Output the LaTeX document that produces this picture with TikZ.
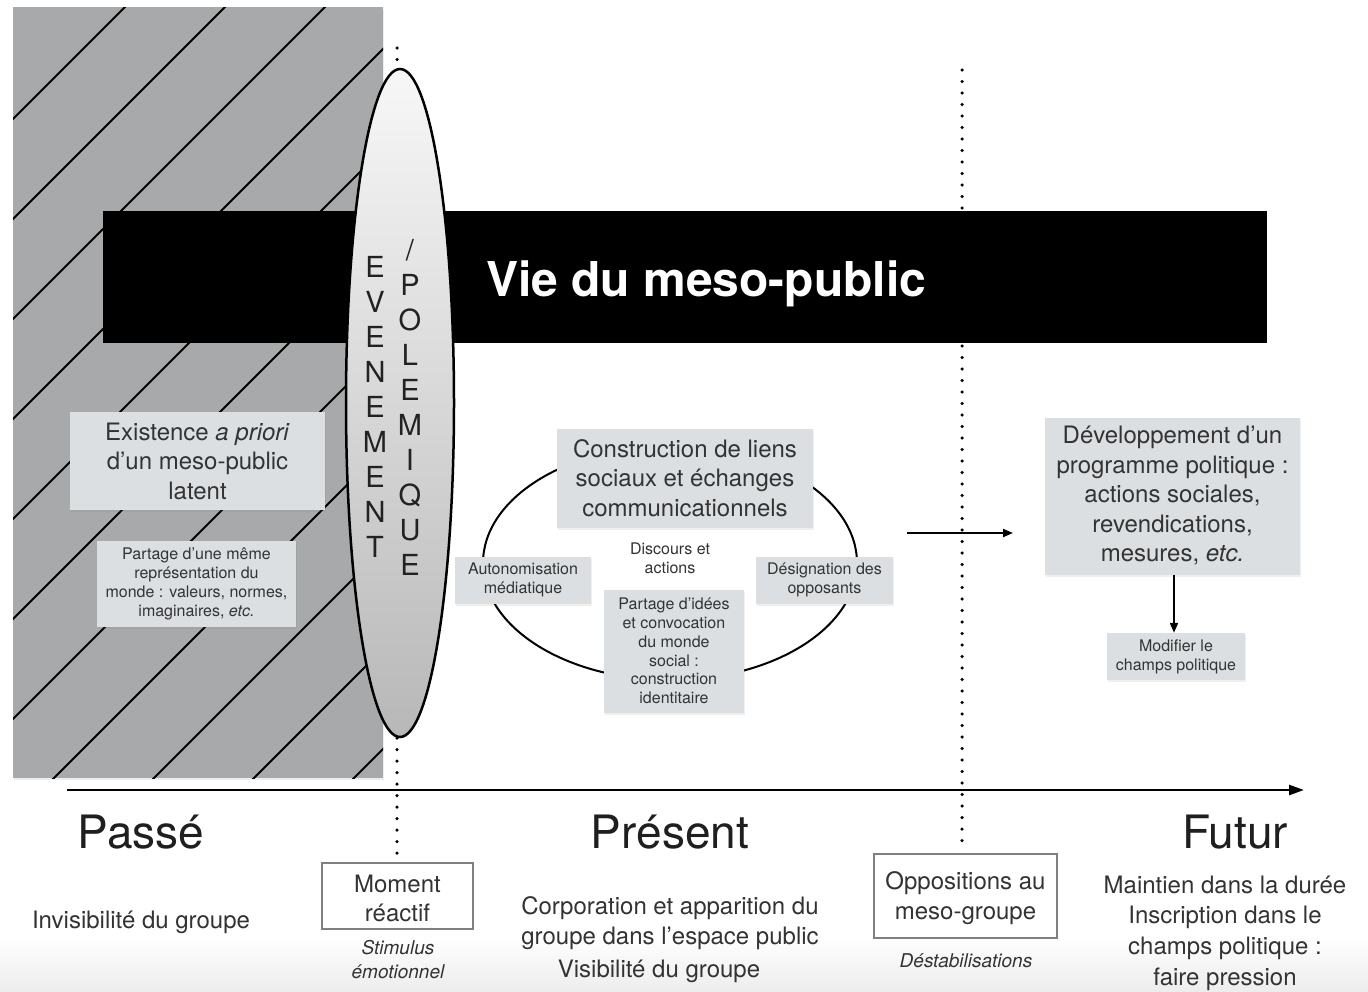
\documentclass[tikz,border=0pt]{standalone}
\usepackage{fontspec}
\setmainfont{TeX Gyre Heros}
\usetikzlibrary{shapes.geometric,arrows.meta,shadows}
\definecolor{hatchgray}{HTML}{A7A9AA}
\definecolor{boxgray}{HTML}{DCDFE2}
\definecolor{textdark}{HTML}{333333}
\definecolor{framegray}{HTML}{808080}
\definecolor{letterc}{HTML}{222222}
\tikzset{
  gbox/.style={fill=boxgray, text=textdark, inner sep=0pt, align=center,
    drop shadow={opacity=0.12, shadow xshift=1pt, shadow yshift=-2pt}},
  bigtxt/.style={font=\fontsize{24}{29.5}\selectfont},
  smalltxt/.style={font=\fontsize{16}{19}\selectfont},
  plaintxt/.style={text=textdark, inner sep=0pt, align=center},
  framebox/.style={draw=framegray, line width=1.5pt, fill=white, text=textdark, inner sep=0pt, align=center},
  dotline/.style={line width=3.5pt, dash pattern=on 0pt off 11.5pt, line cap=round},
  arrowline/.style={line width=2pt, -{Triangle[length=10pt,width=8pt]}},
  periodtxt/.style={font=\fontsize{46}{50}\selectfont, text=black!88, inner sep=0pt},
  itxt/.style={font=\fontsize{19}{24}\selectfont\itshape, text=textdark, inner sep=0pt, align=center}
}
\begin{document}
\begin{tikzpicture}[x=1pt,y=-1pt]
\useasboundingbox[fill=white] (0,0) rectangle (1368,991);
% bottom band
\shade[top color=white, bottom color=black!7] (0,935) rectangle (1368,991);

% hatched past region
\fill[hatchgray, drop shadow={opacity=0.15, shadow xshift=1pt, shadow yshift=-2pt}] (13,7) rectangle (383,778);
\begin{scope}
  \clip (13,7) rectangle (383,778);
  \foreach \c in {132,232,...,1132}
    \draw[line width=2pt, black] (\c-800,800) -- (\c+10,-10);
\end{scope}

% dotted separators
\coordinate (d1a) at (397,48);
\coordinate (d1b) at (397,860);
\coordinate (d2a) at (962,70);
\coordinate (d2b) at (962,850);
\draw[dotline] (d1a) -- (d1b);
\draw[dotline] (d2a) -- (d2b);

% black bar
\fill[black] (103,211) rectangle (1267,343);

% event ellipse
\node[ellipse, draw=black, line width=2.5pt, minimum width=108pt, minimum height=668pt,
      top color=black!3, bottom color=black!28, inner sep=0pt] (evt) at (400,403) {};
\node[font=\fontsize{29}{35}\selectfont, align=center, inner sep=0pt, text=letterc] (ev) at (375,407)
  {E\\V\\E\\N\\E\\M\\E\\N\\T};
\node[font=\fontsize{29}{35}\selectfont, align=center, inner sep=0pt, text=letterc] (pol) at (410,407)
  {/\\P\\O\\L\\E\\M\\I\\Q\\U\\E};

% title
\node[font=\fontsize{48}{50}\selectfont\bfseries, text=white, anchor=base west, inner sep=0pt] (title) at (486,296) {Vie du meso-public};

% past boxes
\node[gbox, bigtxt, minimum width=255pt, minimum height=98pt] (exist) at (197.5,461)
  {Existence \textit{a priori}\\d’un meso-public\\latent};
\node[gbox, smalltxt, minimum width=199pt, minimum height=86pt] (part1) at (196.5,584)
  {Partage d’une même\\représentation du\\monde : valeurs, normes,\\imaginaires, \textit{etc.}};

% present cycle
\node[ellipse, draw=black, line width=2pt, minimum width=374pt, minimum height=234pt, inner sep=0pt] (cyc) at (670,563) {};
\node[gbox, bigtxt, minimum width=256pt, minimum height=99pt] (constr) at (685,478)
  {Construction de liens\\sociaux et échanges\\communicationnels};
\node[gbox, smalltxt, minimum width=136pt, minimum height=47pt] (auto) at (523,580)
  {Autonomisation\\médiatique};
\node[plaintxt, smalltxt] (disc) at (670,558) {Discours et\\actions};
\node[gbox, smalltxt, minimum width=137pt, minimum height=47pt] (desig) at (824.5,580)
  {Désignation des\\opposants};
\node[gbox, font=\fontsize{16}{18.7}\selectfont, minimum width=140pt, minimum height=123pt] (part2) at (674,651)
  {Partage d’idées\\et convocation\\du monde\\social :\\construction\\identitaire};

% future
\coordinate (a1s) at (907,533);
\coordinate (a1e) at (1013,533);
\draw[arrowline] (a1s) -- (a1e);
\node[gbox, bigtxt, minimum width=255pt, minimum height=157pt] (dev) at (1172.5,496)
  {Développement d’un\\programme politique :\\actions sociales,\\revendications,\\mesures, \textit{etc.}};
\node[gbox, smalltxt, minimum width=138pt, minimum height=47pt] (modif) at (1176,656.5)
  {Modifier le\\champs politique};
\draw[arrowline] ([xshift=1.5pt]dev.south) -- ([xshift=1.5pt]dev.south |- modif.north);

% timeline
\coordinate (tl0) at (67,790);
\coordinate (tl1) at (1304,790);
\draw[line width=2.5pt, -{Triangle[length=15pt,width=10pt]}] (tl0) -- (tl1);

\node[periodtxt] (passe) at (141,832) {Passé};
\node[periodtxt] (present) at (670,832) {Présent};
\node[periodtxt] (futur) at (1235,832) {Futur};

\node[plaintxt, bigtxt] (invis) at (141,922) {Invisibilité du groupe};
\node[framebox, bigtxt, minimum width=151pt, minimum height=66pt] (moment) at (397.5,896)
  {\rule{0pt}{22pt}Moment\\réactif};
\node[itxt] (stim) at (398,960) {Stimulus\\émotionnel};
\node[plaintxt, bigtxt] (corpo) at (670,923) {Corporation et apparition du\\groupe dans l’espace public};
\node[plaintxt, bigtxt] (visib) at (659,971) {Visibilité du groupe};
\node[framebox, bigtxt, minimum width=183pt, minimum height=84pt] (oppos) at (965.5,896)
  {\rule{0pt}{22pt}Oppositions au\\meso-groupe};
\node[itxt] (destab) at (966,961) {Déstabilisations};
\node[plaintxt, font=\fontsize{24}{30.7}\selectfont] (maint) at (1225,933)
  {Maintien dans la durée\\Inscription dans le\\champs politique :\\faire pression};
\end{tikzpicture}
\end{document}
